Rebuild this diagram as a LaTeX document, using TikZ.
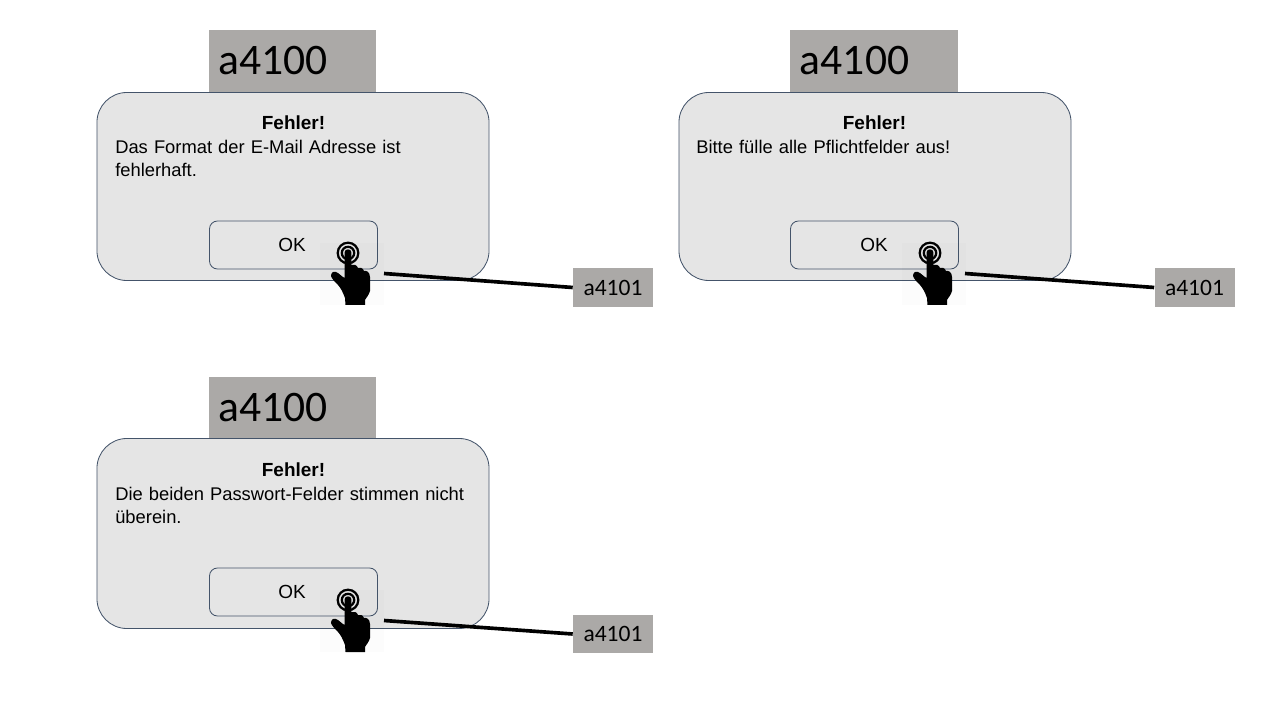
\documentclass[tikz,border=0pt]{standalone}
\usepackage{fontspec}
\setmainfont{Liberation Sans}
\newfontfamily\labelfont{Carlito}
\usetikzlibrary{positioning}
\definecolor{labelgray}{HTML}{ABA9A7}
\definecolor{dialoggray}{HTML}{E5E5E5}
\definecolor{edgeblue}{HTML}{44546A}

\begin{document}
\begin{tikzpicture}[
    x=0.025cm, y=-0.025cm,
    dialog/.style={draw=edgeblue, line width=0.6pt, rounded corners=0.75cm, fill=dialoggray, minimum width=9.8cm, minimum height=#1, inner sep=0pt},
    titlebox/.style={fill=labelgray, text width=3.7cm, inner xsep=0.2375cm, inner ysep=0pt, minimum height=1.55cm, align=left, font=\labelfont\fontsize{31}{34}\selectfont},
    tagbox/.style={fill=labelgray, minimum width=2cm, minimum height=0.97cm, inner sep=0pt, font=\labelfont\fontsize{16.7}{19}\selectfont},
    head/.style={font=\bfseries\fontsize{13.5}{16}\selectfont, inner sep=0pt},
    msg/.style={anchor=north west, text width=9.2cm, inner sep=0pt, align=left, font=\fontsize{13.05}{16.3}\selectfont},
    okbtn/.style={draw=edgeblue, line width=0.6pt, rounded corners=0.2cm, fill=dialoggray, minimum width=4.2cm, minimum height=1.2cm, inner sep=0pt},
    oktext/.style={inner sep=0pt, font=\fontsize{13.5}{16}\selectfont},
    arr/.style={line width=2.6pt},
    hand/.pic={
        \fill[black, opacity=0.012] (-28,-10) rectangle (36,52);
        \draw[line width=1.6pt] (0,0) circle[radius=10.3];
        \draw[line width=1.6pt] (0,0) circle[radius=6.2];
        \fill[black] (-3.3,-1) .. controls (-3.3,-4.5) and (3.3,-4.5) .. (3.3,-1) -- (3.3,12)
            .. controls (6,11) and (9,12) .. (10,15) .. controls (12,14) and (15,15) .. (16,18)
            .. controls (18,17) and (22,19) .. (22,24) -- (22,38) .. controls (21,42) and (18,45) .. (17,47)
            -- (17,52) -- (-2.5,52) -- (-3,45) .. controls (-5,39) and (-8,34) .. (-10,32)
            .. controls (-13,29) and (-16,26) .. (-17,23) .. controls (-17,20) and (-15,18) .. (-12,19)
            .. controls (-9,20) and (-6,24) .. (-3.3,25) -- cycle;
    }
]
    \useasboundingbox (0,0) rectangle (1280,720);

    % Top left dialog
    \node[titlebox] (titleA) at (292.5,61) {a4100};
    \node[dialog=4.7cm] (dlgA) at (293,186.5) {};
    \node[head] (headA) at (293.5,123) {Fehler!};
    \node[msg] (msgA) at (115,140) {Das Format der E-Mail Adresse ist\\fehlerhaft.};
    \node[okbtn] (okA) at (293.5,245) {};
    \node[oktext] (oktextA) at (292,244.5) {OK};
    \pic at (348,253) {hand};
    \node[tagbox] (tagA) at (613,287.5) {a4101};
    \coordinate (curA) at (384,273.5);
    \draw[arr] (curA) -- (tagA.west);

    % Top right dialog
    \node[titlebox] (titleB) at (874,61) {a4100};
    \node[dialog=4.7cm] (dlgB) at (875,186.5) {};
    \node[head] (headB) at (874.5,123) {Fehler!};
    \node[msg] (msgB) at (696,140) {Bitte fülle alle Pflichtfelder aus!};
    \node[okbtn] (okB) at (874.5,245) {};
    \node[oktext] (oktextB) at (874,244.5) {OK};
    \pic at (930,253) {hand};
    \node[tagbox] (tagB) at (1194.5,287.5) {a4101};
    \coordinate (curB) at (965,273.5);
    \draw[arr] (curB) -- (tagB.west);

    % Bottom dialog
    \node[titlebox] (titleC) at (292.5,408) {a4100};
    \node[dialog=4.75cm] (dlgC) at (293,533.5) {};
    \node[head] (headC) at (293.5,470) {Fehler!};
    \node[msg] (msgC) at (115,487) {Die beiden Passwort-Felder stimmen nicht\\überein.};
    \node[okbtn] (okC) at (293.5,592) {};
    \node[oktext] (oktextC) at (292,591.5) {OK};
    \pic at (348,600) {hand};
    \node[tagbox] (tagC) at (613,634) {a4101};
    \coordinate (curC) at (384,620.5);
    \draw[arr] (curC) -- (tagC.west);
\end{tikzpicture}
\end{document}
